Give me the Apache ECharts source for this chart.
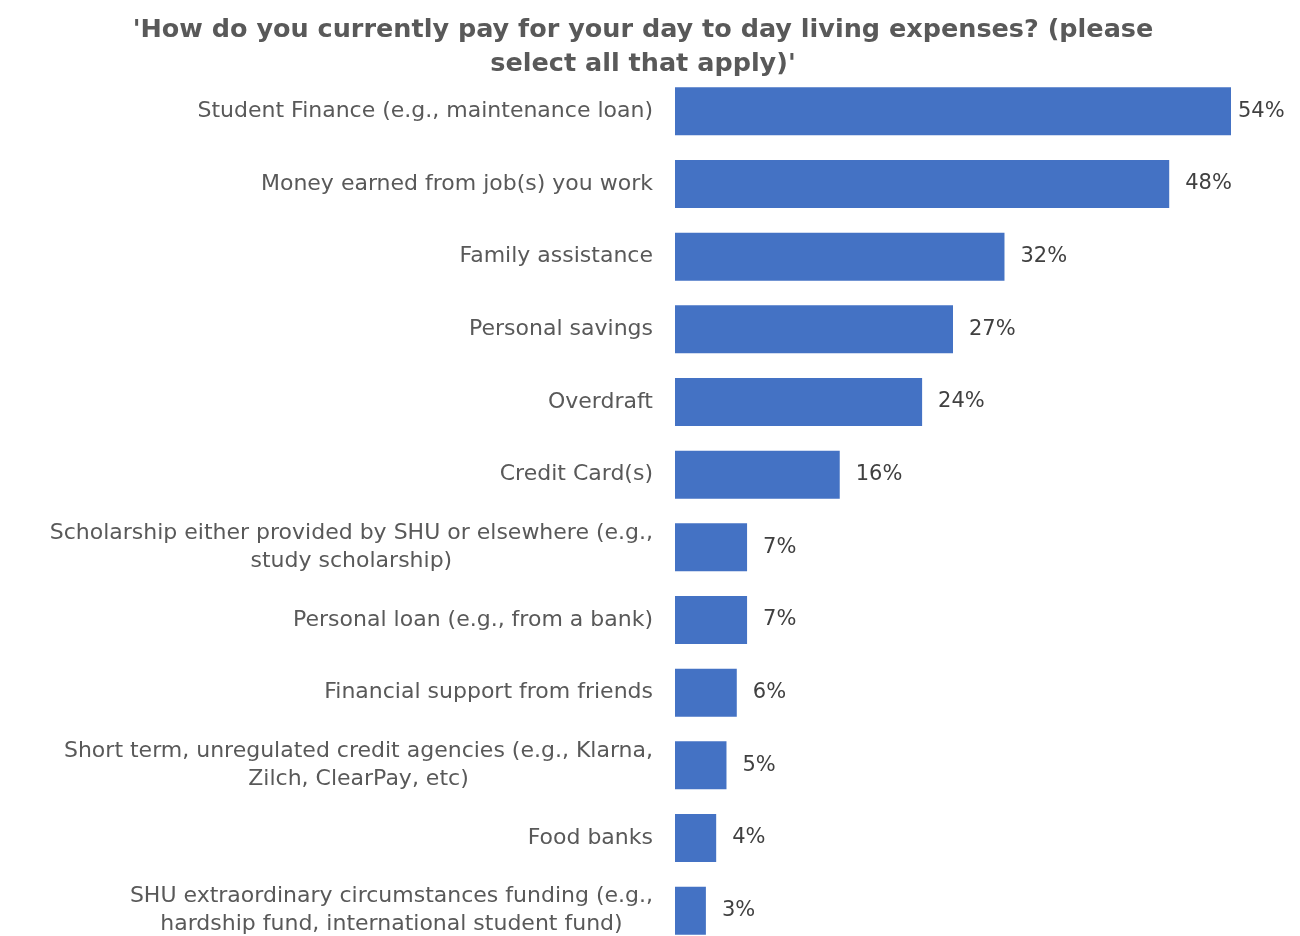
<!DOCTYPE html>
<html>
<head>
<meta charset="utf-8">
<script src="https://cdn.jsdelivr.net/npm/echarts@6/dist/echarts.min.js"></script>
<style>
  html, body { margin: 0; padding: 0; background: #ffffff; }
  #chart { width: 1300px; height: 936px; }
</style>
</head>
<body>
<div id="chart"></div>
<script>
// Survey answers, top to bottom as shown
const categories = [
  'Student Finance (e.g., maintenance loan)',
  'Money earned from job(s) you work',
  'Family assistance',
  'Personal savings',
  'Overdraft',
  'Credit Card(s)',
  'Scholarship either provided by SHU or elsewhere (e.g.,\nstudy scholarship)',
  'Personal loan (e.g., from a bank)',
  'Financial support from friends',
  'Short term, unregulated credit agencies (e.g., Klarna,\nZilch, ClearPay, etc)',
  'Food banks',
  'SHU extraordinary circumstances funding (e.g.,\nhardship fund, international student fund)'
];
// Share of respondents (%)
const shares = [54, 48, 32, 27, 24, 16, 7, 7, 6, 5, 4, 3];

const titleText = "'How do you currently pay for your day to day living expenses? (please\nselect all that apply)'";
const fontFamily = '"DejaVu Sans", "Noto Sans", sans-serif';

// The longest bar keeps its label tucked closer so it stays on the canvas
const barData = shares.map(function (v, i) {
  return i === 0 ? { value: v, label: { distance: 7 } } : v;
});

const chart = echarts.init(document.getElementById('chart'), null, { renderer: 'canvas' });
chart.setOption({
  animation: false,
  backgroundColor: '#ffffff',
  title: {
    text: titleText,
    left: 638,
    textAlign: 'center',
    top: 8,
    textStyle: {
      fontFamily: fontFamily,
      fontSize: 25.5,
      fontWeight: 'bold',
      color: '#595959',
      lineHeight: 34
    }
  },
  grid: {
    left: 675,
    width: 556,
    top: 75,
    height: 872,
    // the last row runs past the bottom edge of the canvas
    outerBoundsMode: 'none',
    containLabel: false
  },
  xAxis: {
    type: 'value',
    min: 0,
    max: 54,
    show: false
  },
  yAxis: {
    type: 'category',
    data: categories,
    inverse: true,
    axisLine: { show: false },
    axisTick: { show: false },
    splitLine: { show: false },
    axisLabel: {
      margin: 22,
      align: 'right',
      // each wrapped line is centred under the longest one
      formatter: function (value) {
        return value.split('\n').map(function (line) { return '{c|' + line + '}'; }).join('\n');
      },
      rich: {
        c: {
          align: 'center',
          fontFamily: fontFamily,
          fontSize: 22,
          lineHeight: 28,
          color: '#595959'
        }
      }
    }
  },
  series: [{
    type: 'bar',
    data: barData,
    barWidth: 48,
    itemStyle: { color: '#4472C4' },
    label: {
      show: true,
      position: 'right',
      distance: 16,
      formatter: '{c}%',
      fontFamily: fontFamily,
      fontSize: 21,
      color: '#404040'
    }
  }]
});
</script>
</body>
</html>
